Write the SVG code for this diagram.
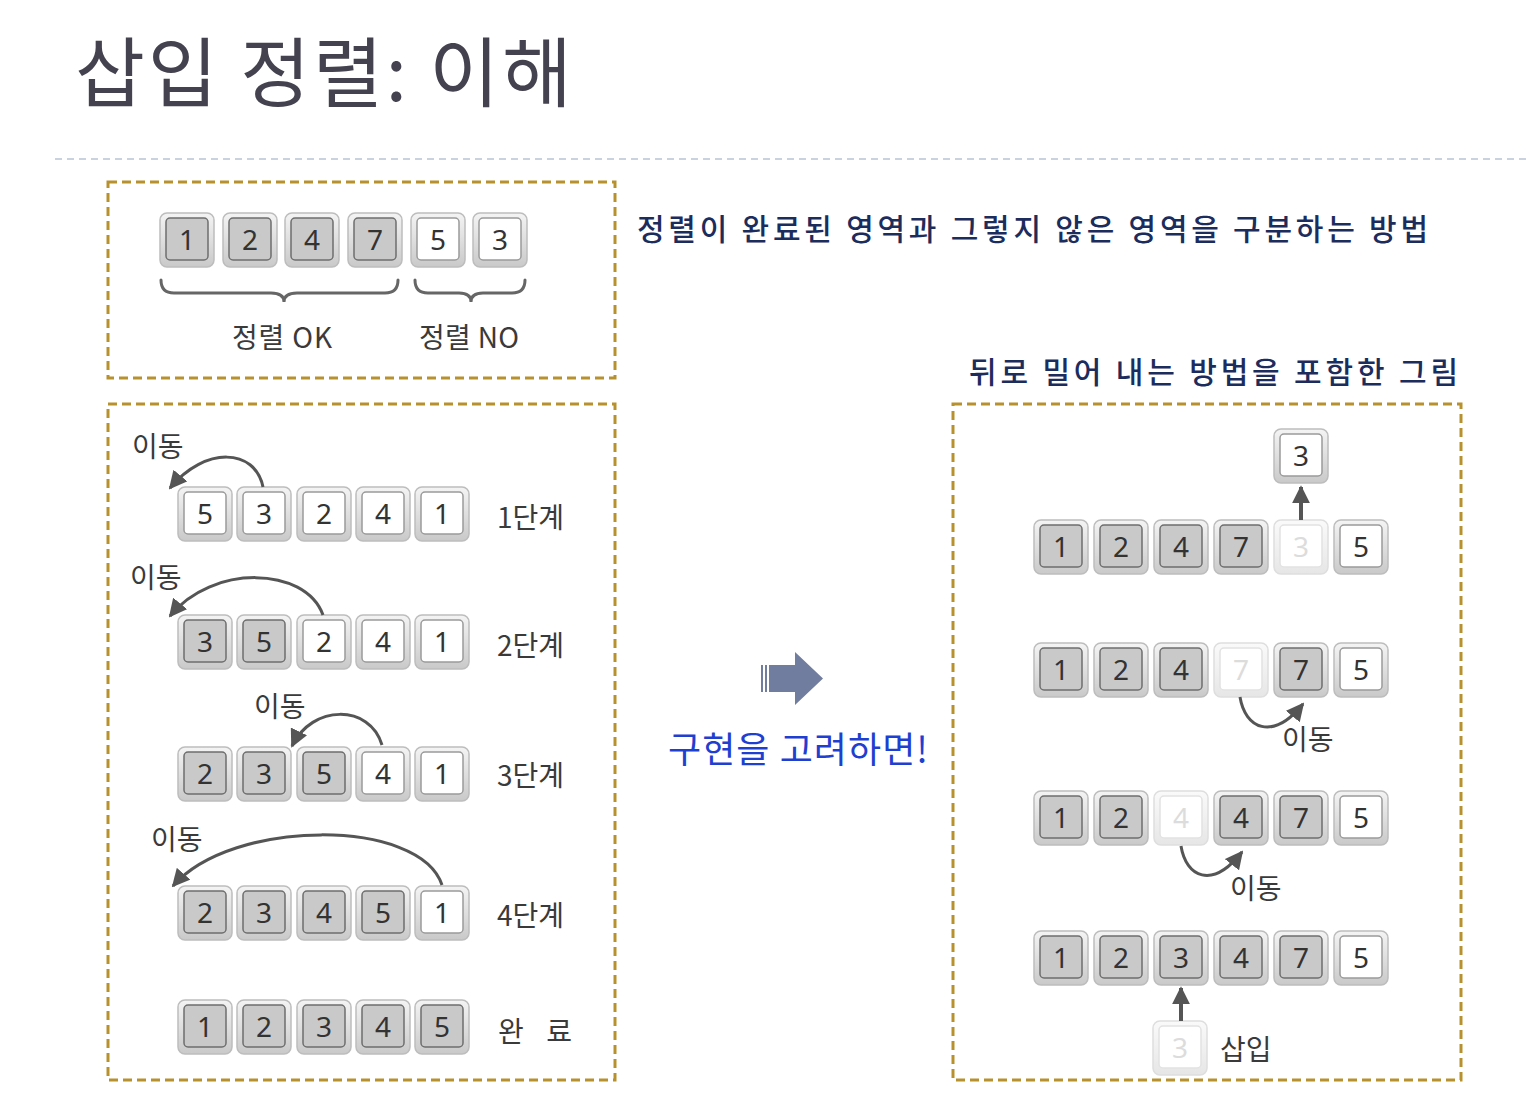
<svg xmlns="http://www.w3.org/2000/svg" xmlns:xlink="http://www.w3.org/1999/xlink" width="1530" height="1096" viewBox="0 0 1530 1096">
<style>
.kr{font-family:"Noto Sans CJK KR","Noto Sans",sans-serif;}
.num{font-family:"Noto Sans","Liberation Sans",sans-serif;font-size:28px;fill:#333;text-anchor:middle;}
.numf{font-family:"Noto Sans","Liberation Sans",sans-serif;font-size:28px;fill:#dcdcdc;text-anchor:middle;}
.lbl{font-family:"Noto Sans CJK KR",sans-serif;font-size:28px;fill:#3a3a3a;}
.hand{font-family:"Noto Sans CJK KR",sans-serif;font-size:30px;fill:#1c2c5c;font-weight:500;}
.box{fill:none;stroke:#b8912f;stroke-width:3;stroke-dasharray:9 5;}
.arc{fill:none;stroke:#555;stroke-width:3;marker-end:url(#ah);}
.up{fill:none;stroke:#555;stroke-width:4;marker-end:url(#ah);}
.brace{fill:none;stroke:#666;stroke-width:3;stroke-linecap:round;}
</style>
<defs>
<linearGradient id="og" x1="0" y1="0" x2="0" y2="1">
<stop offset="0" stop-color="#f4f4f4"/>
<stop offset="1" stop-color="#c9c9c9"/>
</linearGradient>
<linearGradient id="ogf" x1="0" y1="0" x2="0" y2="1">
<stop offset="0" stop-color="#fafafa"/>
<stop offset="1" stop-color="#e6e6e6"/>
</linearGradient>
<marker id="ah" viewBox="0 0 10 10" refX="9" refY="5" markerWidth="18" markerHeight="18" markerUnits="userSpaceOnUse" orient="auto">
<path d="M0,0 L10,5 L0,10 Z" fill="#555"/>
</marker>
<g id="cg">
<rect x="-27" y="-27" width="54" height="54" rx="7" fill="url(#og)" stroke="#bdbdbd" stroke-width="1.5"/>
<rect x="-21" y="-22" width="42" height="42" rx="4" fill="#c9c9c9" stroke="#6e6e6e" stroke-width="1.5"/>
</g>
<g id="cw">
<rect x="-27" y="-27" width="54" height="54" rx="7" fill="url(#og)" stroke="#bdbdbd" stroke-width="1.5"/>
<rect x="-21" y="-22" width="42" height="42" rx="4" fill="#ffffff" stroke="#9a9a9a" stroke-width="1.5"/>
</g>
<g id="cf">
<rect x="-27" y="-27" width="54" height="54" rx="7" fill="url(#ogf)" stroke="#dedede" stroke-width="1.5"/>
<rect x="-21" y="-22" width="42" height="42" rx="4" fill="#ffffff" stroke="#e2e2e2" stroke-width="1.5"/>
</g>
</defs>
<rect width="1530" height="1096" fill="#ffffff"/>

<g id="title">
<text class="kr" x="75" y="101" font-size="76" fill="#45424f" textLength="497" lengthAdjust="spacing">삽입 정렬: 이해</text>
<line x1="55" y1="159" x2="1530" y2="159" stroke="#b8c4d4" stroke-width="1.5" stroke-dasharray="7 5"/>
</g>

<g id="frames">
<rect class="box" x="108" y="182" width="507" height="196"/>
<rect class="box" x="108" y="404" width="507" height="676"/>
<rect class="box" x="953" y="404" width="508" height="676"/>
</g>

<g id="captions">
<text class="hand" x="637" y="240" textLength="791" lengthAdjust="spacing">정렬이 완료된 영역과 그렇지 않은 영역을 구분하는 방법</text>
<text class="hand" x="969" y="383" textLength="489" lengthAdjust="spacing">뒤로 밀어 내는 방법을 포함한 그림</text>
<text class="kr" x="668" y="763" font-size="36" fill="#1f3fd0" textLength="260" lengthAdjust="spacing">구현을 고려하면!</text>
</g>

<g id="big-arrow" fill="#717d9f">
<rect x="761" y="665" width="2" height="27"/>
<rect x="765" y="665" width="2" height="27"/>
<path d="M769,665 L795,665 L795,652 L823,678.5 L795,705 L795,692 L769,692 Z"/>
</g>

<g id="top-row">
<g id="t1" transform="translate(187,240)"><use href="#cg"/><text class="num" y="10">1</text></g>
<g id="t2" transform="translate(250,240)"><use href="#cg"/><text class="num" y="10">2</text></g>
<g id="t3" transform="translate(312,240)"><use href="#cg"/><text class="num" y="10">4</text></g>
<g id="t4" transform="translate(375,240)"><use href="#cg"/><text class="num" y="10">7</text></g>
<g id="t5" transform="translate(438,240)"><use href="#cw"/><text class="num" y="10">5</text></g>
<g id="t6" transform="translate(500,240)"><use href="#cw"/><text class="num" y="10">3</text></g>
<path class="brace" d="M161,280 Q161,293 174,293 L271,293 Q284,293 284,302 Q284,293 297,293 L385,293 Q398,293 398,280"/>
<path class="brace" d="M415,280 Q415,293 428,293 L459,293 Q471,293 471,302 Q471,293 483,293 L512,293 Q525,293 525,280"/>
<text class="lbl" x="232" y="348" textLength="100" lengthAdjust="spacing">정렬 OK</text>
<text class="lbl" x="419" y="348" textLength="100" lengthAdjust="spacing">정렬 NO</text>
</g>

<g id="step1">
<g transform="translate(205,514)"><use href="#cw"/><text class="num" y="10">5</text></g>
<g transform="translate(264,514)"><use href="#cw"/><text class="num" y="10">3</text></g>
<g transform="translate(324,514)"><use href="#cw"/><text class="num" y="10">2</text></g>
<g transform="translate(383,514)"><use href="#cw"/><text class="num" y="10">4</text></g>
<g transform="translate(442,514)"><use href="#cw"/><text class="num" y="10">1</text></g>
<text class="lbl" x="497" y="528">1단계</text>
<text class="lbl" x="132" y="457">이동</text>
</g>
<g id="step2">
<g transform="translate(205,642)"><use href="#cg"/><text class="num" y="10">3</text></g>
<g transform="translate(264,642)"><use href="#cg"/><text class="num" y="10">5</text></g>
<g transform="translate(324,642)"><use href="#cw"/><text class="num" y="10">2</text></g>
<g transform="translate(383,642)"><use href="#cw"/><text class="num" y="10">4</text></g>
<g transform="translate(442,642)"><use href="#cw"/><text class="num" y="10">1</text></g>
<text class="lbl" x="497" y="656">2단계</text>
<text class="lbl" x="130" y="588">이동</text>
</g>
<g id="step3">
<g transform="translate(205,774)"><use href="#cg"/><text class="num" y="10">2</text></g>
<g transform="translate(264,774)"><use href="#cg"/><text class="num" y="10">3</text></g>
<g transform="translate(324,774)"><use href="#cg"/><text class="num" y="10">5</text></g>
<g transform="translate(383,774)"><use href="#cw"/><text class="num" y="10">4</text></g>
<g transform="translate(442,774)"><use href="#cw"/><text class="num" y="10">1</text></g>
<text class="lbl" x="497" y="786">3단계</text>
<text class="lbl" x="254" y="717">이동</text>
</g>
<g id="step4">
<g transform="translate(205,913)"><use href="#cg"/><text class="num" y="10">2</text></g>
<g transform="translate(264,913)"><use href="#cg"/><text class="num" y="10">3</text></g>
<g transform="translate(324,913)"><use href="#cg"/><text class="num" y="10">4</text></g>
<g transform="translate(383,913)"><use href="#cg"/><text class="num" y="10">5</text></g>
<g transform="translate(442,913)"><use href="#cw"/><text class="num" y="10">1</text></g>
<text class="lbl" x="497" y="926">4단계</text>
<text class="lbl" x="151" y="850">이동</text>
</g>
<g id="done">
<g transform="translate(205,1027)"><use href="#cg"/><text class="num" y="10">1</text></g>
<g transform="translate(264,1027)"><use href="#cg"/><text class="num" y="10">2</text></g>
<g transform="translate(324,1027)"><use href="#cg"/><text class="num" y="10">3</text></g>
<g transform="translate(383,1027)"><use href="#cg"/><text class="num" y="10">4</text></g>
<g transform="translate(442,1027)"><use href="#cg"/><text class="num" y="10">5</text></g>
<text class="lbl" x="498" y="1042" textLength="74" lengthAdjust="spacing">완 료</text>
</g>

<g id="r-temp" transform="translate(1301,456)"><use href="#cw"/><text class="num" y="10">3</text></g>
<g id="r-row1">
<g transform="translate(1061,547)"><use href="#cg"/><text class="num" y="10">1</text></g>
<g transform="translate(1121,547)"><use href="#cg"/><text class="num" y="10">2</text></g>
<g transform="translate(1181,547)"><use href="#cg"/><text class="num" y="10">4</text></g>
<g transform="translate(1241,547)"><use href="#cg"/><text class="num" y="10">7</text></g>
<g transform="translate(1301,547)"><use href="#cf"/><text class="numf" y="10">3</text></g>
<g transform="translate(1361,547)"><use href="#cw"/><text class="num" y="10">5</text></g>
</g>
<g id="r-row2">
<g transform="translate(1061,670)"><use href="#cg"/><text class="num" y="10">1</text></g>
<g transform="translate(1121,670)"><use href="#cg"/><text class="num" y="10">2</text></g>
<g transform="translate(1181,670)"><use href="#cg"/><text class="num" y="10">4</text></g>
<g transform="translate(1241,670)"><use href="#cf"/><text class="numf" y="10">7</text></g>
<g transform="translate(1301,670)"><use href="#cg"/><text class="num" y="10">7</text></g>
<g transform="translate(1361,670)"><use href="#cw"/><text class="num" y="10">5</text></g>
<text class="lbl" x="1282" y="750">이동</text>
</g>
<g id="r-row3">
<g transform="translate(1061,818)"><use href="#cg"/><text class="num" y="10">1</text></g>
<g transform="translate(1121,818)"><use href="#cg"/><text class="num" y="10">2</text></g>
<g transform="translate(1181,818)"><use href="#cf"/><text class="numf" y="10">4</text></g>
<g transform="translate(1241,818)"><use href="#cg"/><text class="num" y="10">4</text></g>
<g transform="translate(1301,818)"><use href="#cg"/><text class="num" y="10">7</text></g>
<g transform="translate(1361,818)"><use href="#cw"/><text class="num" y="10">5</text></g>
<text class="lbl" x="1230" y="899">이동</text>
</g>
<g id="r-row4">
<g transform="translate(1061,958)"><use href="#cg"/><text class="num" y="10">1</text></g>
<g transform="translate(1121,958)"><use href="#cg"/><text class="num" y="10">2</text></g>
<g transform="translate(1181,958)"><use href="#cg"/><text class="num" y="10">3</text></g>
<g transform="translate(1241,958)"><use href="#cg"/><text class="num" y="10">4</text></g>
<g transform="translate(1301,958)"><use href="#cg"/><text class="num" y="10">7</text></g>
<g transform="translate(1361,958)"><use href="#cw"/><text class="num" y="10">5</text></g>
</g>
<g id="r-insert">
<g transform="translate(1180,1048)"><use href="#cf"/><text class="numf" y="10">3</text></g>
<text class="lbl" x="1220" y="1060">삽입</text>
</g>

<g id="connectors">
<path class="arc" d="M263,487 C255,448 205,446 170,488"/>
<path class="arc" d="M323,615 C305,566 212,564 170,616"/>
<path class="arc" d="M382,745 C370,704 312,704 292,746"/>
<path class="arc" d="M442,885 C420,818 232,818 173,886"/>
<path class="up" d="M1301,520 L1301,487"/>
<path class="arc" d="M1240,697 C1245,728 1272,742 1303,704"/>
<path class="arc" d="M1181,846 C1186,877 1212,890 1242,852"/>
<path class="up" d="M1181,1021 L1181,988"/>
</g>
</svg>
